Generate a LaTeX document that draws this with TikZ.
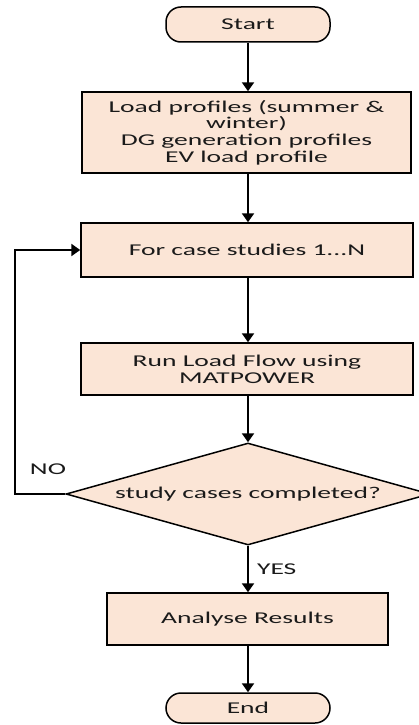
\documentclass[tikz,border=0pt]{standalone}
\usepackage{fontspec}
\setmainfont{Carlito}[FakeStretch=1.67]
\usetikzlibrary{shapes.geometric,arrows.meta}
\definecolor{peach}{HTML}{FBE5D6}
\definecolor{ink}{HTML}{1A1A1A}
\tikzset{
  box/.style={draw=black, fill=peach, line width=1.5pt, inner sep=0pt, align=center, text=ink},
  term/.style={box, rounded corners=15pt},
  dec/.style={draw=black, fill=peach, line width=1.5pt, diamond, aspect=3.5, inner sep=0pt, minimum width=364pt, minimum height=102pt, text=ink},
  conn/.style={line width=2.2pt, -{Triangle[width=12pt,length=9pt]}},
  lbl/.style={inner sep=0pt, text=ink},
}
\begin{document}
\begin{tikzpicture}[x=1pt,y=1pt,font=\fontsize{16.5}{16.8}\selectfont]
\useasboundingbox (0,0) rectangle (419,-725);
\node[term, minimum width=164pt, minimum height=35pt] (start) at (248,-24.5) {Start};
\node[box, minimum width=329pt, minimum height=81pt] (load) at (246.5,-132.5) {Load profiles (summer \&\\winter)\\DG generation profiles\\EV load profile};
\node[box, minimum width=332pt, minimum height=54pt] (cases) at (247,-250) {For case studies 1...N};
\node[box, minimum width=332pt, minimum height=52pt] (flow) at (247,-369) {Run Load Flow using\\MATPOWER};
\node[dec] (check) at (248,-494) {study cases completed?};
\node[box, minimum width=281pt, minimum height=52pt] (analyse) at (247.5,-619) {Analyse Results};
\node[term, minimum width=164pt, minimum height=30pt] (end) at (248,-708) {End};
\coordinate (c1) at (15,-494);
\coordinate (c2) at (15,-250);
\draw[conn] (start.south -| 248,0) -- (load.north -| 248,0);
\draw[conn] (load.south -| 248,0) -- (cases.north -| 248,0);
\draw[conn] (cases.south -| 248,0) -- (flow.north -| 248,0);
\draw[conn] (flow.south -| 248,0) -- (check.north);
\draw[conn] (check.south) -- (analyse.north -| 248,0) node[lbl, pos=0.5, right=8pt] {YES};
\draw[conn] (analyse.south -| 248,0) -- (end.north -| 248,0);
\draw[conn] (check.west) -- (c1) -- (c2) -- (cases.west);
\node[lbl] (no) at (48,-469) {NO};
\end{tikzpicture}
\end{document}
